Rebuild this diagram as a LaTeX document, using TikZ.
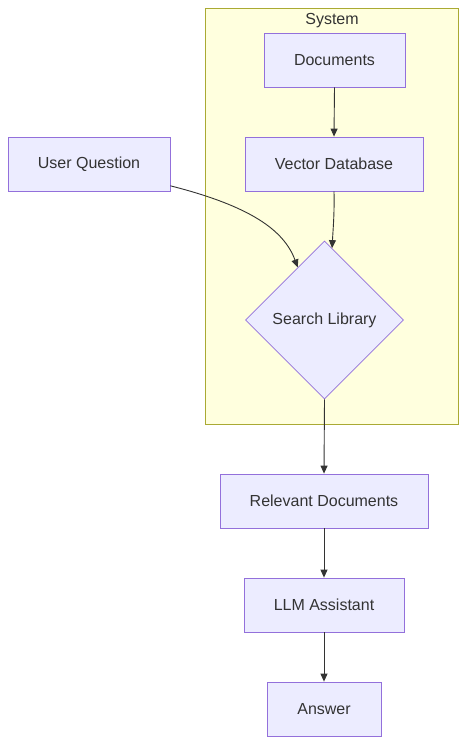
\documentclass[tikz,border=0pt]{standalone}
\usepackage{fontspec}
\setmainfont{Liberation Sans}
\usetikzlibrary{shapes.geometric,arrows.meta}
\definecolor{nodefill}{HTML}{ECECFF}
\definecolor{nodestroke}{HTML}{9370DB}
\definecolor{clusterfill}{HTML}{FFFFDE}
\definecolor{clusterstroke}{HTML}{AAAA33}
\definecolor{txt}{HTML}{333333}
\tikzset{
  box/.style={draw=nodestroke, fill=nodefill, line width=0.8bp, rectangle, inner sep=0pt, text=txt, font=\fontsize{16bp}{19bp}\selectfont},
  dia/.style={draw=nodestroke, fill=nodefill, line width=0.8bp, diamond, inner sep=0pt, minimum width=158bp, minimum height=158bp, text=txt, font=\fontsize{16bp}{19bp}\selectfont},
  conn/.style={draw=txt, line width=0.9bp, -{Triangle[length=8bp,width=7bp]}},
}
\begin{document}
\begin{tikzpicture}[x=1bp,y=-1bp]
\useasboundingbox (0,0) rectangle (467,744);
\fill[white] (0,0) rectangle (467,744);
% cluster
\draw[draw=clusterstroke, fill=clusterfill, line width=0.8bp] (205,8) rectangle (458,424);
\node[text=txt, font=\fontsize{16bp}{19bp}\selectfont] (systemlabel) at (332,20.5) {System};
% nodes
\node[box, minimum width=141bp, minimum height=54bp] (docs) at (334.5,60) {Documents};
\node[box, minimum width=178bp, minimum height=54bp] (vdb) at (334,164) {Vector Database};
\node[box, minimum width=162bp, minimum height=54bp] (uq) at (89,164) {User Question};
\node[dia] (search) at (324.5,320) {Search Library};
\node[box, minimum width=208bp, minimum height=54bp] (rel) at (324,501) {Relevant Documents};
\node[box, minimum width=160bp, minimum height=54bp] (llm) at (324,605) {LLM Assistant};
\node[box, minimum width=114bp, minimum height=54bp] (ans) at (324,709) {Answer};
% connectors
\draw[conn] (docs.south) -- (vdb.north);
\draw[conn] (vdb.south) .. controls (334.5,215) and (333,230) .. (search.84);
\draw[conn] (uq.-15) .. controls (250,206) and (284,230) .. (search.117);
\draw[conn] (search.south) -- (rel.north);
\draw[conn] (rel.south) -- (llm.north);
\draw[conn] (llm.south) -- (ans.north);
\end{tikzpicture}
\end{document}
